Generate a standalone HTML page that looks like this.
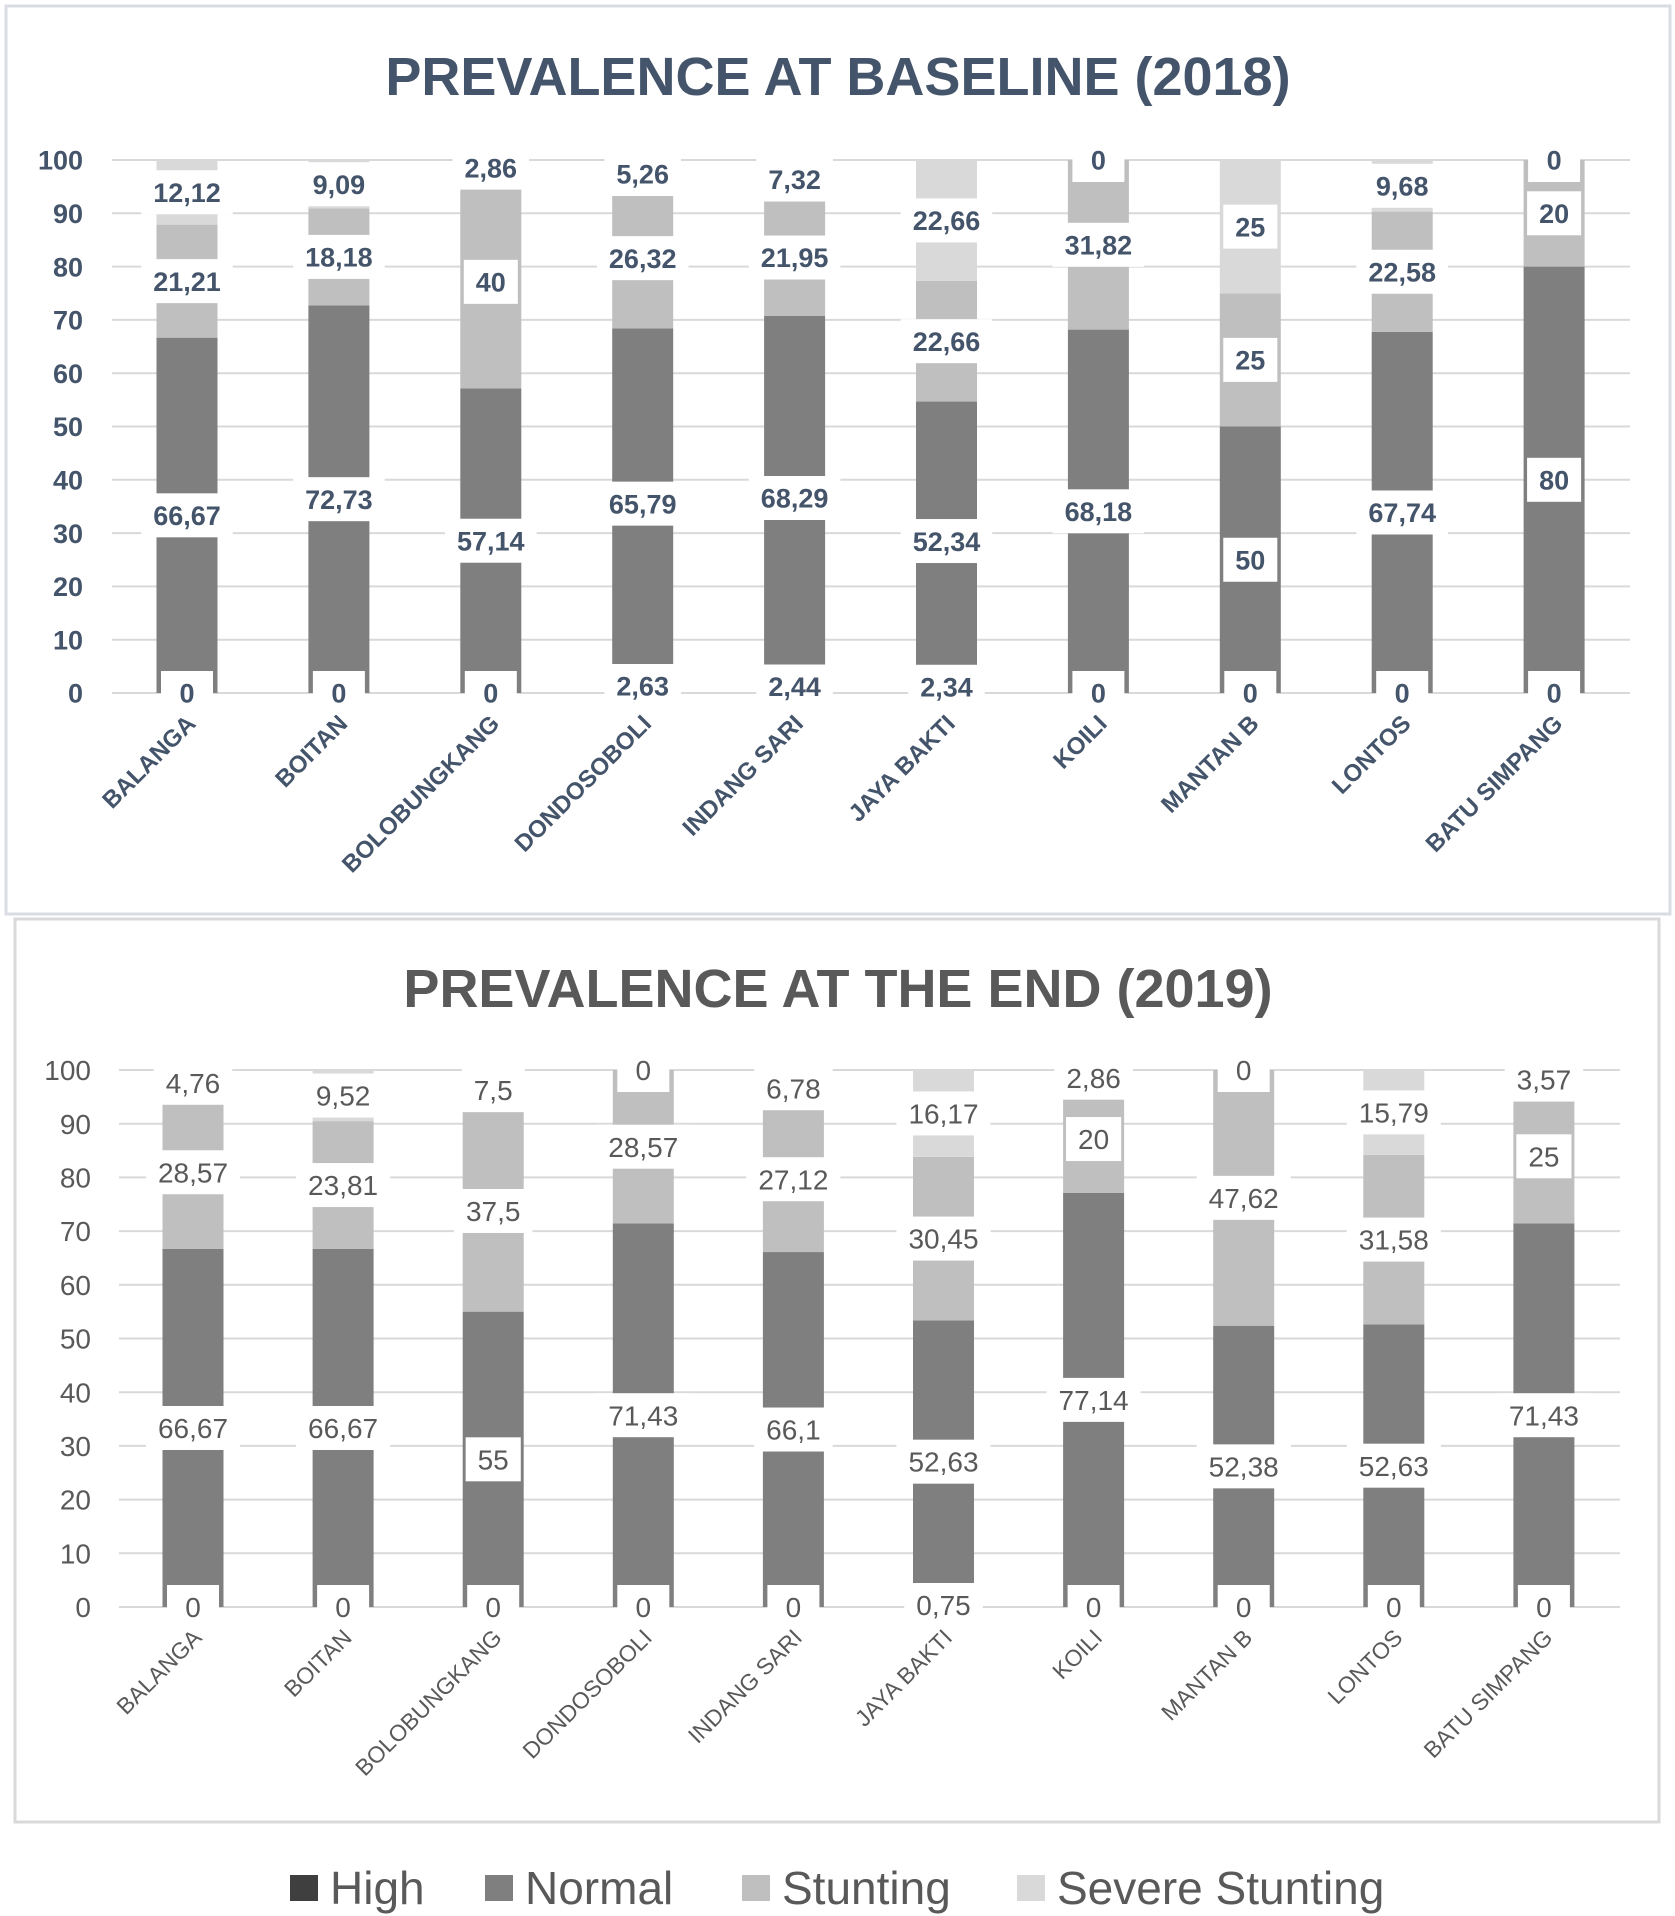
<!DOCTYPE html>
<html><head><meta charset="utf-8">
<style>
html,body{margin:0;padding:0;background:#fff;}
svg{display:block;}
</style></head>
<body>
<svg id="chart" width="1675" height="1916" xmlns="http://www.w3.org/2000/svg">
  <rect x="6" y="6" width="1664" height="908" fill="#fff" stroke="#d9dde3" stroke-width="3"/>
  <rect x="15" y="919" width="1644" height="903" fill="#fff" stroke="#d9d9d9" stroke-width="3"/>
  <text x="838" y="95" text-anchor="middle" font-family="Liberation Sans, sans-serif" font-weight="bold" font-size="54" fill="#44546a">PREVALENCE AT BASELINE (2018)</text>
  <text x="838" y="1007" text-anchor="middle" font-family="Liberation Sans, sans-serif" font-weight="bold" font-size="54" fill="#595959">PREVALENCE AT THE END (2019)</text>
  <g id="top"></g>
  <g id="bot"></g>
  <g id="legend"></g>
</svg>
<script>
const categories = ["BALANGA","BOITAN","BOLOBUNGKANG","DONDOSOBOLI","INDANG SARI","JAYA BAKTI","KOILI","MANTAN B","LONTOS","BATU SIMPANG"];
const seriesNames = ["High","Normal","Stunting","Severe Stunting"];
const yTicks = [0,10,20,30,40,50,60,70,80,90,100];
// 2018
const high2018 = [0,0,0,2.63,2.44,2.34,0,0,0,0];
const normal2018 = [66.67,72.73,57.14,65.79,68.29,52.34,68.18,50,67.74,80];
const stunting2018 = [21.21,18.18,40,26.32,21.95,22.66,31.82,25,22.58,20];
const severe2018 = [12.12,9.09,2.86,5.26,7.32,22.66,0,25,9.68,0];
// 2019
const high2019 = [0,0,0,0,0,0.75,0,0,0,0];
const normal2019 = [66.67,66.67,55,71.43,66.1,52.63,77.14,52.38,52.63,71.43];
const stunting2019 = [28.57,23.81,37.5,28.57,27.12,30.45,20,47.62,31.58,25];
const severe2019 = [4.76,9.52,7.5,0,6.78,16.17,2.86,0,15.79,3.57];

const colors = ["#3f3f3f","#7f7f7f","#bfbfbf","#d9d9d9"];
const NS = "http://www.w3.org/2000/svg";
function mk(tag, attrs, parent){const e=document.createElementNS(NS,tag);for(const k in attrs)e.setAttribute(k,attrs[k]);parent.appendChild(e);return e;}
function fmt(v){return String(v).replace('.',',');}

function drawChart(g, cfg, data){
  const y = v => cfg.y0 - (v/100)*(cfg.y0-cfg.y100);
  const x = i => cfg.x0 + i*cfg.step;
  yTicks.forEach(t=>{
    const l=mk('line',{x1:cfg.gx1,x2:cfg.gx2,y1:y(t),y2:y(t),stroke:'#d9d9d9','stroke-width':2},g);
    
    
    const tx=mk('text',{x:cfg.tickX,y:y(t)+cfg.fs*0.36,'text-anchor':'end','font-family':'Liberation Sans, sans-serif','font-size':cfg.fs,'font-weight':cfg.fw,fill:cfg.tc},g);
    tx.textContent=t;
    
    
  });
  const labels=[];
  categories.forEach((c,i)=>{
    let acc=0;
    data.forEach((arr,s)=>{
      const v=arr[i];
      const r=mk('rect',{x:x(i)-cfg.bw/2,y:y(acc+v),width:cfg.bw,height:y(acc)-y(acc+v),fill:colors[s]},g);
      
      
      labels.push({i,s,v,cy:y(acc+v/2)});
      acc+=v;
    });
    const lt=mk('text',{transform:`translate(${x(i)+10},${cfg.y0+32}) rotate(-45)`,'text-anchor':'end','font-family':'Liberation Sans, sans-serif','font-size':cfg.xfs,'font-weight':cfg.fw,fill:cfg.xc},g);
    lt.textContent=c;
    
    
  });
  labels.forEach(L=>{
    const lg=mk('g',{},g);
    
    
    const bg=mk('rect',{fill:'#fff'},lg);
    const t=mk('text',{x:x(L.i),y:L.cy+cfg.lfs*0.36,'text-anchor':'middle','font-family':'Liberation Sans, sans-serif','font-size':cfg.lfs,'font-weight':cfg.fw,fill:cfg.lc},lg);
    t.textContent=fmt(L.v);
    const w=Math.max(t.getComputedTextLength()+24,52);
    bg.setAttribute('x',x(L.i)-w/2);bg.setAttribute('y',L.cy-cfg.lh/2);
    bg.setAttribute('width',w);bg.setAttribute('height',cfg.lh);
  });
}
drawChart(document.getElementById('top'),{y0:693,y100:160,x0:187,step:151.9,bw:61,gx1:112,gx2:1630,tickX:83,fs:27,fw:'bold',tc:'#44546a',xfs:24,xc:'#44546a',lfs:27,lc:'#44546a',lh:44},[high2018,normal2018,stunting2018,severe2018]);
drawChart(document.getElementById('bot'),{y0:1607,y100:1070,x0:193,step:150.1,bw:61,gx1:119,gx2:1620,tickX:91,fs:28,fw:'normal',tc:'#595959',xfs:23,xc:'#595959',lfs:28,lc:'#595959',lh:44},[high2019,normal2019,stunting2019,severe2019]);

const lg=document.getElementById('legend');
const lx=[290,485,742,1017];
seriesNames.forEach((n,s)=>{
  const g=mk('g',{},lg);
  
  
  mk('rect',{x:lx[s],y:1875,width:28,height:26,fill:colors[s]},g);
  const t=mk('text',{x:lx[s]+40,y:1904,'font-family':'Liberation Sans, sans-serif','font-size':46,fill:'#595959'},g);
  t.textContent=n;
});
</script>
</body></html>
